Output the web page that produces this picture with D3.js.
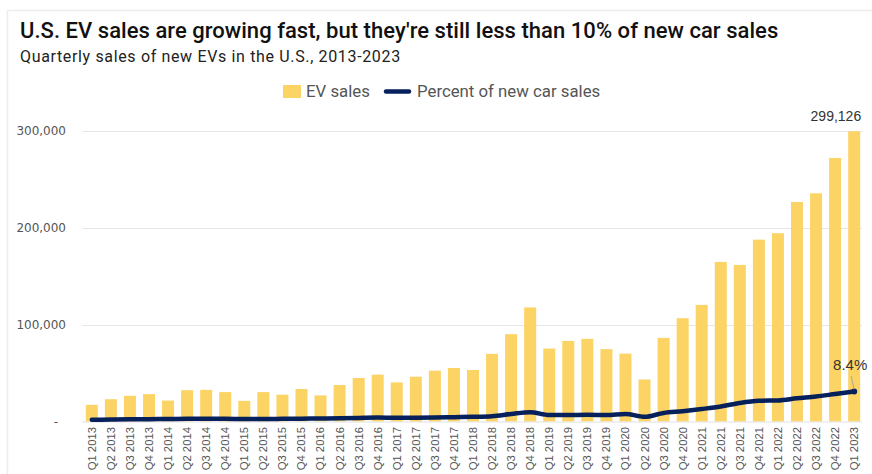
<!DOCTYPE html>
<html>
<head>
<meta charset="utf-8">
<script src="https://cdn.jsdelivr.net/npm/d3@7"></script>
<style>
  html, body { margin: 0; padding: 0; background: #fff; }
  svg { display: block; }
</style>
</head>
<body>
<svg id="chart" width="872" height="474"></svg>
<script>
const categories = [
  "Q1 2013","Q2 2013","Q3 2013","Q4 2013",
  "Q1 2014","Q2 2014","Q3 2014","Q4 2014",
  "Q1 2015","Q2 2015","Q3 2015","Q4 2015",
  "Q1 2016","Q2 2016","Q3 2016","Q4 2016",
  "Q1 2017","Q2 2017","Q3 2017","Q4 2017",
  "Q1 2018","Q2 2018","Q3 2018","Q4 2018",
  "Q1 2019","Q2 2019","Q3 2019","Q4 2019",
  "Q1 2020","Q2 2020","Q3 2020","Q4 2020",
  "Q1 2021","Q2 2021","Q3 2021","Q4 2021",
  "Q1 2022","Q2 2022","Q3 2022","Q4 2022",
  "Q1 2023"
];
const evSales = [
  17200, 23000, 26500, 28200,
  21600, 32300, 32600, 30300,
  21300, 30300, 27600, 33500,
  26900, 37600, 44900, 48300,
  40300, 46200, 52400, 55200,
  53100, 69700, 90000, 117600,
  75200, 83100, 85200, 74600,
  70000, 43300, 86200, 106500,
  120200, 164500, 161400, 187500,
  194100, 226300, 235300, 271700,
  299126
];
const pctOfNewCarSales = [
  0.5, 0.55, 0.6, 0.65,
  0.7, 0.75, 0.75, 0.75,
  0.7, 0.7, 0.75, 0.8,
  0.85, 0.9, 1.0, 1.1,
  1.05, 1.05, 1.1, 1.2,
  1.3, 1.5, 2.1, 2.6,
  1.8, 1.8, 1.9, 1.8,
  2.1, 1.3, 2.4, 2.9,
  3.5, 4.2, 5.2, 5.8,
  5.9, 6.5, 7.0, 7.7,
  8.4
];
const yTicks = [0, 100000, 200000, 300000];
const titleText = "U.S. EV sales are growing fast, but they're still less than 10% of new car sales";
const subtitleText = "Quarterly sales of new EVs in the U.S., 2013-2023";
const legendLabels = ["EV sales", "Percent of new car sales"];

const barColor = "#fcd465";
const lineColor = "#06205c";

const svg = d3.select("#chart");

// card border
svg.append("rect")
  .attr("x", 7.5).attr("y", 10.5).attr("width", 900).attr("height", 500)
  .attr("fill", "none").attr("stroke", "#ececec").attr("stroke-width", 1.5);

svg.append("text").attr("x", 20).attr("y", 38)
  .attr("font-family", "Roboto, sans-serif").attr("font-size", 22).attr("font-weight", 500)
  .attr("letter-spacing", 0.04)
  .attr("fill", "#111").text(titleText);
svg.append("text").attr("x", 20).attr("y", 62)
  .attr("font-family", "Roboto, sans-serif").attr("font-size", 16).attr("letter-spacing", 0.65)
  .attr("fill", "#222").text(subtitleText);

// legend
const lg = svg.append("g").attr("font-family", "Roboto, sans-serif").attr("font-size", 16.8).attr("fill", "#555");
lg.append("rect").attr("x", 283).attr("y", 85).attr("width", 18).attr("height", 13).attr("fill", barColor);
lg.append("text").attr("x", 306).attr("y", 97).text(legendLabels[0]);
lg.append("line").attr("x1", 386).attr("x2", 409).attr("y1", 91.5).attr("y2", 91.5)
  .attr("stroke", lineColor).attr("stroke-width", 4.5).attr("stroke-linecap", "round");
lg.append("text").attr("x", 417).attr("y", 97).text(legendLabels[1]);

const x = d3.scaleBand().domain(categories).range([82, 864]).paddingInner(0.37).paddingOuter(0.2);
const y = d3.scaleLinear().domain([0, 300000]).range([421.5, 130.5]);
const yPct = d3.scaleLinear().domain([0, 8.4]).range([421.5, 391.5]);

// gridlines
svg.append("g").selectAll("line").data(yTicks.filter(d => d > 0)).join("line")
  .attr("x1", 82).attr("x2", 862)
  .attr("y1", d => Math.round(y(d)) + 0.5).attr("y2", d => Math.round(y(d)) + 0.5)
  .attr("stroke", "#e6e6e6").attr("stroke-width", 1);

// y axis
const yAxis = d3.axisLeft(y).tickValues(yTicks).tickSize(0).tickPadding(0)
  .tickFormat(d => d === 0 ? "-" : d3.format(",")(d));
const yg = svg.append("g").attr("transform", "translate(66,0)").call(yAxis);
yg.select(".domain").remove();
yg.selectAll("text").attr("font-family", "DejaVu Sans, sans-serif").attr("font-size", 12).attr("fill", "#555");
yg.selectAll(".tick").filter(d => d === 0).select("text").attr("dx", -8);

// bars
svg.append("g").selectAll("rect").data(evSales).join("rect")
  .attr("x", (d, i) => x(categories[i]))
  .attr("width", x.bandwidth())
  .attr("y", d => y(d))
  .attr("height", d => y(0) - y(d))
  .attr("fill", barColor);

// baseline
svg.append("line").attr("x1", 82).attr("x2", 862).attr("y1", 422).attr("y2", 422)
  .attr("stroke", "#e0e0e0").attr("stroke-width", 1);

// x axis
const xAxis = d3.axisBottom(x).tickSize(0).tickPadding(0);
const xg = svg.append("g").attr("transform", "translate(0,427)").call(xAxis);
xg.select(".domain").remove();
xg.selectAll("text")
  .attr("font-family", "Liberation Sans, Arial, sans-serif").attr("font-size", 11.3).attr("fill", "#555")
  .attr("transform", "rotate(-90)")
  .attr("text-anchor", "end")
  .attr("x", 0).attr("y", 0).attr("dy", "0.35em");

// line
const cx = i => x(categories[i]) + x.bandwidth() / 2;
const line = d3.line().x((d, i) => cx(i)).y(d => yPct(d)).curve(d3.curveMonotoneX);
svg.append("path").datum(pctOfNewCarSales).attr("d", line)
  .attr("fill", "none").attr("stroke", lineColor).attr("stroke-width", 4.5)
  .attr("stroke-linecap", "round").attr("stroke-linejoin", "round");
const last = pctOfNewCarSales.length - 1;
svg.append("circle").attr("cx", cx(last)).attr("cy", yPct(pctOfNewCarSales[last])).attr("r", 3)
  .attr("fill", lineColor);

// annotations
svg.append("line").attr("x1", cx(last) - 3).attr("y1", 376).attr("x2", cx(last)).attr("y2", yPct(pctOfNewCarSales[last]) - 2)
  .attr("stroke", "#999").attr("stroke-width", 0.8);
svg.append("text").attr("x", cx(last) - 4).attr("y", 370).attr("text-anchor", "middle")
  .attr("font-family", "Liberation Sans, Arial, sans-serif").attr("font-size", 15).attr("fill", "#333")
  .text(d3.format(".1f")(pctOfNewCarSales[last]) + "%");
svg.append("text").attr("x", x(categories[last]) + x.bandwidth() + 1).attr("y", 121).attr("text-anchor", "end")
  .attr("font-family", "Liberation Sans, Arial, sans-serif").attr("font-size", 14).attr("fill", "#333")
  .text(d3.format(",")(evSales[last]));
</script>
</body>
</html>
